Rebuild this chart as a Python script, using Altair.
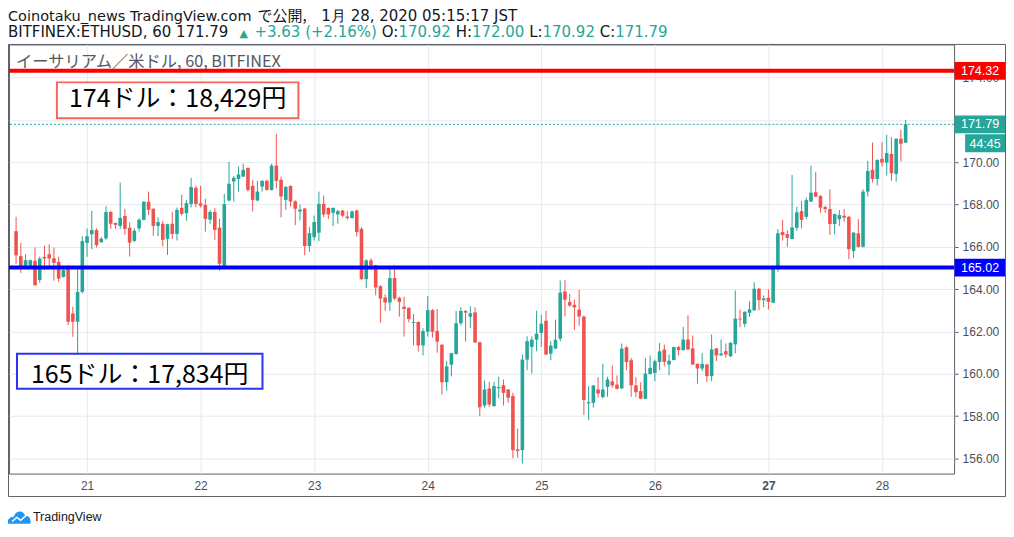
import altair as alt
import pandas as pd

# ---------------- data ----------------
FIRST_HOUR = 9          # first candle: Jan 20, 09:00 (hours counted from Jan 20 00:00)
opens = [166.74,165.56,165.10,165.05,165.34,164.43,165.53,165.65,165.46,165.29,
         164.58,164.98,162.85,162.46,163.87,166.19,166.60,166.79,166.22,166.40,
         167.65,167.13,166.99,167.46,166.90,166.28,166.87,167.28,168.13,167.80,
         166.99,167.09,166.38,167.09,166.61,167.84,167.59,168.03,168.79,168.06,
         167.98,167.28,167.65,166.91,165.07,168.19,169.09,169.21,169.32,169.73,
         168.88,168.19,168.85,169.12,168.69,169.84,169.17,168.22,168.88,168.15,
         167.67,167.81,166.04,166.46,166.67,168.03,167.84,167.61,167.53,167.72,
         167.43,167.36,167.72,166.85,164.47,165.36,165.13,164.14,163.60,163.37,
         164.53,163.59,163.17,163.12,162.40,162.45,161.34,161.99,163.01,162.02,
         161.37,159.60,160.43,160.94,162.39,162.97,162.70,162.90,161.49,158.50,
         159.31,158.47,159.32,159.46,159.26,158.95,156.43,156.39,160.67,161.27,
         161.61,161.93,162.51,160.95,161.19,161.66,163.89,163.39,163.26,163.03,
         162.70,158.60,158.63,159.26,158.90,159.38,159.64,159.49,159.31,161.25,
         160.64,159.45,159.18,158.82,159.99,160.04,160.56,161.14,160.44,160.65,
         161.26,161.12,161.62,161.20,160.47,160.25,160.44,159.89,161.20,160.87,
         161.07,160.83,161.39,162.61,162.36,162.88,163.00,164.02,163.48,163.59,
         163.36,164.98,166.70,166.60,166.37,166.90,167.69,167.42,168.14,168.58,
         168.40,167.88,167.79,167.08,167.31,167.47,167.42,165.81,166.64,166.00,
         168.61,169.64,169.21,170.16,169.98,170.39,169.45,171.11,170.92]
highs = [167.42,166.19,165.65,165.40,165.97,165.53,166.06,166.12,165.97,165.53,
         164.96,165.13,163.17,165.06,166.50,166.87,167.70,166.87,166.48,167.92,
         167.70,167.15,169.04,167.80,167.15,166.88,167.35,168.15,168.61,167.82,
         167.40,167.23,167.09,167.65,167.86,168.46,168.22,169.26,168.88,168.88,
         168.27,167.75,167.83,167.32,168.50,170.02,169.35,169.80,169.92,169.75,
         169.17,169.12,169.14,169.17,169.92,171.34,169.32,168.88,168.90,168.20,
         168.00,167.84,166.93,167.48,168.61,168.42,167.86,167.86,167.76,167.74,
         167.69,167.72,167.74,166.93,165.41,165.46,165.15,164.19,163.76,165.10,
         165.13,163.64,163.64,163.14,162.82,162.47,162.15,163.67,163.06,163.06,
         161.40,160.61,161.00,162.97,163.14,163.01,163.20,163.14,161.52,159.68,
         159.62,159.62,159.86,159.73,159.28,159.10,157.41,160.91,161.77,161.77,
         162.98,162.79,162.98,161.54,162.56,164.41,164.44,163.78,163.50,163.97,
         162.76,159.42,159.47,159.84,160.48,159.86,160.39,159.92,161.43,161.30,
         160.75,159.84,159.60,160.75,160.86,160.67,161.46,161.38,160.91,161.28,
         161.31,162.22,162.76,161.81,160.49,160.99,160.46,161.86,161.22,161.62,
         161.43,161.50,163.94,163.04,162.96,163.43,164.33,164.06,163.70,163.98,
         165.00,166.84,167.27,166.79,169.40,167.90,168.17,168.33,169.83,169.53,
         168.45,167.95,168.72,167.57,167.74,167.79,167.46,166.71,167.31,168.72,
         170.06,170.93,170.13,170.95,171.30,171.18,171.13,171.53,172.00]
lows = [165.20,164.77,165.05,165.02,164.15,164.30,164.90,165.05,164.40,164.35,
        164.55,162.30,161.75,160.96,163.80,165.53,165.89,165.97,166.19,166.33,
        166.85,166.85,166.85,166.57,165.54,166.22,166.72,167.25,167.51,166.52,
        166.50,166.02,165.62,166.38,166.30,167.48,167.23,167.86,167.87,167.86,
        166.72,167.09,166.33,164.88,165.02,168.15,168.14,168.61,169.30,168.61,
        167.67,168.15,168.61,168.66,168.66,168.77,167.39,167.75,167.90,167.03,
        167.25,165.60,165.76,166.30,166.27,167.40,167.32,166.98,167.09,167.41,
        167.29,167.34,166.49,164.45,164.06,164.92,163.71,162.41,162.98,162.98,
        163.48,162.70,161.76,162.42,161.34,161.05,160.87,161.76,161.71,161.00,
        159.02,159.20,159.88,160.90,162.28,161.52,162.15,161.46,158.00,158.40,
        158.43,158.45,158.84,158.50,158.63,156.01,156.04,155.76,160.17,160.01,
        161.06,161.27,160.89,160.64,161.17,161.54,162.71,163.18,162.08,162.27,
        158.05,157.81,158.40,158.87,158.84,158.91,159.34,159.27,159.29,160.17,
        158.91,158.90,158.80,158.80,159.97,159.65,160.17,160.36,159.93,160.63,
        160.87,161.10,161.13,160.42,159.53,160.13,159.61,159.65,160.60,160.85,
        160.76,160.79,160.96,162.20,162.20,162.69,162.98,163.00,163.15,163.03,
        163.34,164.82,166.29,166.00,166.35,166.76,166.87,167.31,168.12,168.35,
        167.61,167.61,166.56,166.59,166.98,167.19,165.42,165.48,165.97,165.98,
        168.37,169.04,168.90,169.79,169.37,169.12,169.08,170.03,170.92]
closes = [165.60,165.06,165.37,165.37,164.19,165.45,165.45,165.45,165.24,164.50,
          164.90,162.46,162.46,163.87,166.27,166.50,166.79,166.08,166.38,167.65,
          167.09,167.04,167.37,166.85,166.20,166.76,167.28,168.13,167.75,166.99,
          167.17,166.33,167.07,166.61,167.75,167.56,168.06,168.83,168.03,167.94,
          167.32,167.65,166.80,165.20,168.02,168.98,169.26,169.42,169.64,168.69,
          168.22,168.61,169.12,168.69,169.84,169.12,168.38,168.83,168.14,167.80,
          167.76,166.04,166.65,167.17,168.03,167.53,167.53,167.84,167.69,167.47,
          167.36,167.67,166.70,164.47,165.36,165.13,164.08,163.56,163.37,164.52,
          163.56,163.40,163.06,162.59,162.45,161.34,162.02,163.01,161.99,161.52,
          159.60,160.35,160.97,162.39,162.97,162.89,162.86,161.48,158.42,159.26,
          158.55,159.42,159.37,159.10,158.87,156.39,156.35,160.67,161.54,161.61,
          161.90,162.37,160.91,161.33,161.61,163.84,163.50,163.22,163.14,162.71,
          158.76,158.66,159.45,159.07,159.26,159.73,159.45,159.29,161.19,160.55,
          159.46,159.13,158.82,160.01,160.28,160.59,161.06,160.56,160.62,161.26,
          161.12,161.62,161.15,160.44,160.25,160.47,159.89,161.15,160.87,160.96,
          160.91,161.46,162.61,162.57,162.93,163.04,164.02,163.48,163.56,163.40,
          164.98,166.64,166.56,166.43,166.92,167.63,167.27,168.21,168.56,168.37,
          167.85,167.79,167.08,167.55,167.50,167.38,165.89,166.67,166.00,168.61,
          169.59,169.21,170.11,169.98,170.43,169.48,171.11,170.87,171.79]

level_prices = [174.32, 171.79, 165.02]
level_colors = ["#ff0000", "#26a69a", "#0000ff"]
price_ticks = [156, 158, 160, 162, 164, 166, 168, 170, 172, 174]
hidden_tick = 172          # label covered by the 171.79 price tag
day_ticks = [21, 22, 23, 24, 25, 26, 27, 28]

header1 = [("Coinotaku_news TradingView.com", "DejaVu Sans", 14.5),
           ("で公開,", "Noto Sans CJK JP", 15),
           ("1月 28, 2020 05:15:17 JST", "DejaVu Sans", 15)]
header1_x = [-1, 249, 313]
header2 = [("BITFINEX:ETHUSD, 60 171.79", "dark"), ("▲", "up"), ("+3.63 (+2.16%)", "up"),
           ("O:", "dark"), ("170.92", "up"), ("H:", "dark"), ("172.00", "up"),
           ("L:", "dark"), ("170.92", "up"), ("C:", "dark"), ("171.79", "up")]
header2_x = [-1, 231, 246, 373.4, 390.3, 447.6, 463.9, 521.2, 534.6, 591.9, 607.4]
legend_text = "イーサリアム／米ドル, 60, BITFINEX"
note_red = "174ドル：18,429円"
note_blue = "165ドル：17,834円"
countdown = "44:45"

# ---------------- styling ----------------
UP, DOWN = "#26a69a", "#ef5350"
GRID = "#e4eaf0"
BORDER = "#5d606b"
AXTXT = "#4c4e56"
DARK = "#131722"
W, H = 947, 430

df = pd.DataFrame({"hour": [FIRST_HOUR + i for i in range(len(opens))],
                   "open": opens, "high": highs, "low": lows, "close": closes})
df["dir"] = ["up" if c >= o else "down" for o, c in zip(opens, closes)]

xscale = alt.Scale(domain=[8.557, 206.19], nice=False, zero=False)
yscale = alt.Scale(domain=[155.283, 175.566], nice=False, zero=False)
xax = alt.Axis(values=[(d - 20) * 24 for d in day_ticks],
               labelExpr="format(datum.value / 24 + 20, 'd')",
               grid=True, gridColor=GRID, ticks=False, tickSize=0, domain=False,
               labelPadding=7, labelColor=AXTXT, labelFontSize=12,
               labelFont="Liberation Sans", labelOverlap=False, title=None,
               labelFontWeight={"condition": {"test": "datum.value == 168", "value": "bold"},
                                "value": "normal"})
yax = alt.Axis(orient="right", values=price_ticks,
               labelExpr=f"datum.value == {hidden_tick} ? '' : format(datum.value, '.2f')",
               grid=True, gridColor=GRID,
               tickSize=4, tickColor=BORDER, domain=False, labelPadding=4,
               labelColor=AXTXT, labelFontSize=12, labelFont="Liberation Sans",
               labelOverlap=False, title=None)
ccol = alt.Color("dir:N", scale=alt.Scale(domain=["up", "down"], range=[UP, DOWN]), legend=None)

base = alt.Chart(df)
wicks = base.mark_rule(strokeWidth=1).encode(
    x=alt.X("hour:Q", scale=xscale, axis=xax),
    y=alt.Y("low:Q", scale=yscale, axis=yax),
    y2="high:Q", color=ccol)
bodies = base.mark_bar(size=3.6).encode(
    x=alt.X("hour:Q", scale=xscale, axis=xax),
    y=alt.Y("open:Q", scale=yscale, axis=yax),
    y2="close:Q", color=ccol)

lv = pd.DataFrame({"price": level_prices, "col": level_colors,
                   "label": [f"{p:.2f}" for p in level_prices]})
lv["top"] = lv["price"] + 0.42
lv["bot"] = lv["price"] - 0.42
solid = alt.Chart(lv.iloc[[0, 2]]).mark_rule(strokeWidth=4).encode(
    y=alt.Y("price:Q", scale=yscale, axis=yax), color=alt.Color("col:N", scale=None))
dashed = alt.Chart(lv.iloc[[1]]).mark_rule(strokeWidth=1, strokeDash=[2, 2]).encode(
    y=alt.Y("price:Q", scale=yscale, axis=yax), color=alt.Color("col:N", scale=None))
tags = alt.Chart(lv).mark_rect().encode(
    x=alt.value(947.5), x2=alt.value(998),
    y=alt.Y("top:Q", scale=yscale, axis=yax), y2="bot:Q",
    color=alt.Color("col:N", scale=None))
tag_txt = alt.Chart(lv).mark_text(color="white", fontSize=12.5, font="Liberation Sans",
                                  baseline="middle", align="center").encode(
    x=alt.value(973), y=alt.Y("price:Q", scale=yscale, axis=yax), text="label:N")

one = pd.DataFrame({"k": [0]})


def txt(s, x, y, size, color, font="DejaVu Sans", align="left", baseline="alphabetic",
        weight="normal"):
    return alt.Chart(one).mark_text(text=s, align=align, baseline=baseline, fontSize=size,
                                    color=color, font=font, fontWeight=weight).encode(
        x=alt.value(x), y=alt.value(y))


def box(x1, x2, y1, y2, stroke, sw, fill="white", op=1):
    return alt.Chart(one).mark_rect(fill=fill, fillOpacity=op, stroke=stroke,
                                    strokeWidth=sw).encode(
        x=alt.value(x1), x2=alt.value(x2), y=alt.value(y1), y2=alt.value(y2))


layers = [wicks, bodies, solid, dashed, tags, tag_txt]
# countdown tag
layers.append(box(958, 998, 90, 108, UP, 0, fill=UP))
layers.append(txt(countdown, 978, 99.5, 12.5, "white", font="Liberation Sans",
                  align="center", baseline="middle"))
# outer frame
layers.append(box(-0.5, 998.5, 0, 453, BORDER, 1, fill="white", op=0))
# headers
for (s, f, sz), x in zip(header1, header1_x):
    layers.append(txt(s, x, -23, sz, DARK, font=f))
for (s, kind), x in zip(header2, header2_x):
    layers.append(txt(s, x, -7.5, 11 if s == "▲" else 15, UP if kind == "up" else DARK))
layers.append(txt(legend_text, 7, 23, 16.3, "#555861", font="Noto Sans CJK JP"))
# annotation boxes
layers.append(box(48, 290, 38, 74, "#f4665c", 2))
layers.append(txt(note_red, 169, 63, 25, "black", font="Noto Sans CJK JP", align="center"))
layers.append(box(8, 254, 310, 345, "#2b35f0", 2))
layers.append(txt(note_blue, 131, 339, 25, "black", font="Noto Sans CJK JP", align="center"))
# logo
cloud = ("M-1,0.55 C-1.05,0.05 -0.6,-0.15 -0.45,-0.05 C-0.35,-0.6 0.35,-0.75 0.55,-0.15 "
         "C0.9,-0.2 1.1,0.2 1,0.55 Z")
zig = "M-0.6,0.35 L-0.2,0.0 L0.15,0.25 L0.65,-0.2"
layers.append(alt.Chart(one).mark_point(shape=cloud, filled=True, fill="#2196f3",
                                        strokeWidth=0, size=520, opacity=1).encode(
    x=alt.value(10), y=alt.value(474)))
layers.append(alt.Chart(one).mark_point(shape=zig, filled=False, stroke="white",
                                        strokeWidth=1.5, size=520, opacity=1).encode(
    x=alt.value(10), y=alt.value(474)))
layers.append(txt("TradingView", 24, 474, 12.5, DARK, font="Liberation Sans",
                  baseline="middle"))

chart = alt.layer(*layers).properties(
    width=W, height=H, background="white",
    padding={"left": 1, "top": 36, "right": 52, "bottom": 56},
    autosize=alt.AutoSizeParams(type="none"),
).configure_view(stroke=BORDER, strokeWidth=1)

chart.save("out.html", embed_options={"renderer": "svg", "actions": False})
